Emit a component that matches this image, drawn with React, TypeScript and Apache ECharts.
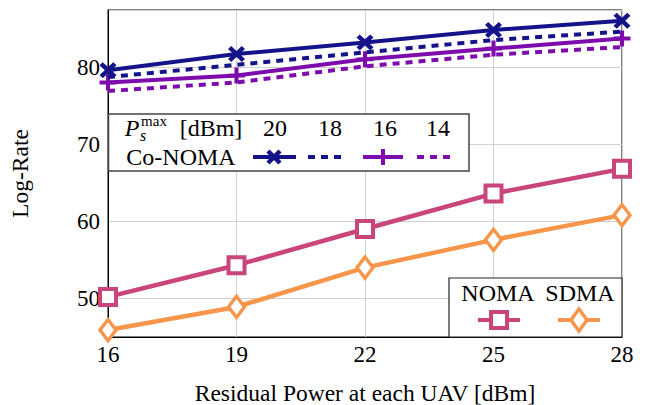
import React, { useEffect, useRef } from "react";
import * as echarts from "echarts";

const xCategories = ["16", "19", "22", "25", "28"];
const coNoma20 = [79.6, 81.7, 83.2, 84.8, 86.0];
const coNoma18 = [78.7, 80.3, 81.9, 83.5, 84.6];
const coNoma16 = [78.0, 78.9, 81.0, 82.4, 83.7];
const coNoma14 = [76.9, 78.0, 80.1, 81.6, 82.6];
const noma = [50.2, 54.3, 59.0, 63.6, 66.8];
const sdma = [45.9, 48.9, 54.0, 57.6, 60.8];
const legendPowers = ["20", "18", "16", "14"];

const NAVY = "#14138a";
const PURPLE = "#7e0cad";
const PINK = "#c9467c";
const ORANGE = "#f7964a";
const FONT = "'Liberation Serif', 'Times New Roman', serif";

const crossPath =
  "path://M0,1.9L1.9,0L5,3.1L8.1,0L10,1.9L6.9,5L10,8.1L8.1,10L5,6.9L1.9,10L0,8.1L3.1,5Z";
const plusPath =
  "path://M3.8,0H6.2V3.8H10V6.2H6.2V10H3.8V6.2H0V3.8H3.8Z";

export default function App() {
  const ref = useRef<HTMLDivElement>(null);
  useEffect(() => {
    if (!ref.current) return;
    const chart = echarts.init(ref.current, undefined, { renderer: "svg" });
    const txt = (text: string, x: number, y: number, size = 24, extra: any = {}) => ({
      type: "text",
      z: 101,
      x,
      y,
      style: {
        text,
        font: `${extra.italic ? "italic " : ""}${size}px ${FONT}`,
        fill: "#000",
        align: extra.align || "center",
        verticalAlign: "middle",
      },
    });
    const hline = (x1: number, x2: number, y: number, color: string, dash?: number[]) => ({
      type: "line",
      z: 101,
      shape: { x1, y1: y, x2, y2: y },
      style: { stroke: color, lineWidth: 4, lineDash: dash },
    });
    const ly1 = 128;
    const ly2 = 157;
    const colX = [275, 330, 385, 438];
    const graphic: any[] = [
      {
        type: "rect",
        z: 100,
        shape: { x: 108.5, y: 114, width: 360.5, height: 57 },
        style: { fill: "#fff", stroke: "#444", lineWidth: 1.5 },
      },
      txt("P", 132, ly1, 24, { italic: true }),
      txt("max", 154, 120.5, 15),
      txt("s", 143, 135, 16, { italic: true }),
      txt("[dBm]", 211, ly1, 24),
      ...legendPowers.map((p, i) => txt(p, colX[i], ly1, 24)),
      txt("Co-NOMA", 181, ly2, 24),
      hline(253, 296, ly2, NAVY),
      {
        type: "line", z: 102,
        shape: { x1: 268, y1: ly2 - 6, x2: 280, y2: ly2 + 6 },
        style: { stroke: NAVY, lineWidth: 4.5 },
      },
      {
        type: "line", z: 102,
        shape: { x1: 268, y1: ly2 + 6, x2: 280, y2: ly2 - 6 },
        style: { stroke: NAVY, lineWidth: 4.5 },
      },
      hline(308, 346, ly2, NAVY, [7, 6]),
      hline(363, 403, ly2, PURPLE),
      {
        type: "line", z: 102,
        shape: { x1: 383, y1: ly2 - 8, x2: 383, y2: ly2 + 8 },
        style: { stroke: PURPLE, lineWidth: 4 },
      },
      hline(417, 456, ly2, PURPLE, [7, 6]),
      {
        type: "rect",
        z: 100,
        shape: { x: 449, y: 278, width: 173, height: 59 },
        style: { fill: "#fff", stroke: "#222", lineWidth: 1.2 },
      },
      txt("NOMA", 498, 293, 24),
      txt("SDMA", 580, 293, 24),
      hline(478, 520, 320, PINK),
      {
        type: "rect", z: 102,
        shape: { x: 491, y: 312, width: 16, height: 16 },
        style: { fill: "#fff", stroke: PINK, lineWidth: 4 },
      },
      hline(558, 600, 320, ORANGE),
      {
        type: "polygon", z: 102,
        shape: { points: [[579, 309], [587, 320], [579, 331], [571, 320]] },
        style: { fill: "#fff", stroke: ORANGE, lineWidth: 3.5 },
      },
    ];

    const option: any = {
      animation: false,
      backgroundColor: "#fff",
      textStyle: { fontFamily: FONT },
      grid: {
        left: 108,
        right: 24,
        top: 10,
        bottom: 68,
        show: true,
        containLabel: false,
        outerBoundsMode: "none",
        borderColor: "#000",
        borderWidth: 1,
        backgroundColor: "transparent",
      },
      xAxis: {
        type: "category",
        data: xCategories,
        boundaryGap: false,
        name: "Residual Power at each UAV [dBm]",
        nameLocation: "middle",
        nameGap: 44,
        nameTextStyle: { fontFamily: FONT, fontSize: 23.5, color: "#000" },
        axisLine: { lineStyle: { color: "#000", width: 1 } },
        axisTick: { show: false },
        axisLabel: { fontFamily: FONT, fontSize: 23, color: "#000", margin: 6 },
        splitLine: { show: true, lineStyle: { color: "#d0d0d0", width: 1 } },
      },
      yAxis: {
        type: "value",
        min: 45,
        max: 87.4,
        name: "Log-Rate",
        nameLocation: "middle",
        nameGap: 76,
        nameTextStyle: { fontFamily: FONT, fontSize: 23.5, color: "#000" },
        axisLine: { show: true, lineStyle: { color: "#000", width: 1 } },
        axisTick: { show: false },
        axisLabel: {
          fontFamily: FONT,
          fontSize: 23,
          color: "#000",
          margin: 8,
          formatter: (v: number) => (Math.abs(v % 10) < 1e-6 ? String(v) : ""),
        },
        splitLine: { show: true, lineStyle: { color: "#d0d0d0", width: 1 } },
      },
      series: [
        {
          type: "line",
          data: coNoma20,
          symbol: crossPath,
          symbolSize: [17, 16],
          lineStyle: { color: NAVY, width: 4 },
          itemStyle: { color: NAVY },
          z: 5,
        },
        {
          type: "line",
          data: coNoma18,
          symbol: "none",
          lineStyle: { color: NAVY, width: 4, type: [7, 6] },
          itemStyle: { color: NAVY },
          z: 4,
        },
        {
          type: "line",
          data: coNoma16,
          symbol: plusPath,
          symbolSize: [17, 16],
          lineStyle: { color: PURPLE, width: 4 },
          itemStyle: { color: PURPLE },
          z: 3,
        },
        {
          type: "line",
          data: coNoma14,
          symbol: "none",
          lineStyle: { color: PURPLE, width: 4, type: [7, 6] },
          itemStyle: { color: PURPLE },
          z: 2,
        },
        {
          type: "line",
          data: noma,
          symbol: "rect",
          symbolSize: 16,
          lineStyle: { color: PINK, width: 4.5 },
          itemStyle: { color: "#fff", borderColor: PINK, borderWidth: 4 },
          z: 3,
        },
        {
          type: "line",
          data: sdma,
          symbol: "diamond",
          symbolSize: [16, 21],
          lineStyle: { color: ORANGE, width: 4.5 },
          itemStyle: { color: "#fff", borderColor: ORANGE, borderWidth: 3.5 },
          z: 3,
        },
      ],
      graphic,
    };
    chart.setOption(option);
    return () => chart.dispose();
  }, []);
  return (
    <div
      ref={ref}
      style={{ position: "absolute", left: 0, top: 0, width: 646, height: 405 }}
    />
  );
}
